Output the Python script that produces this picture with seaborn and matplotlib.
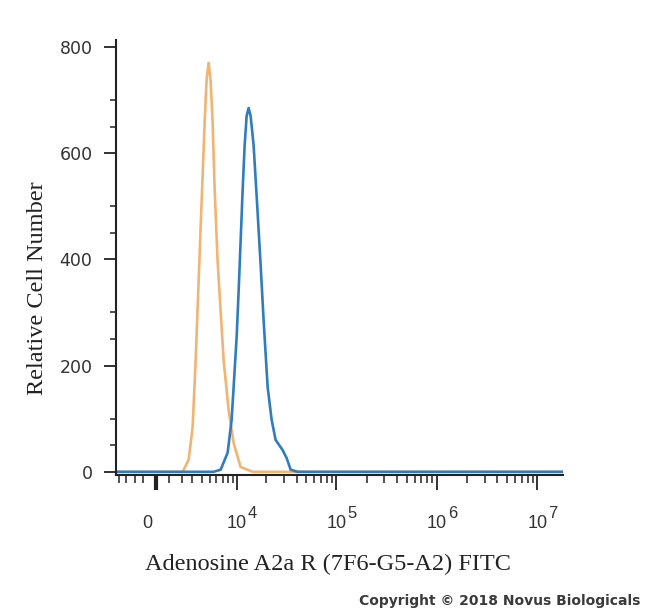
import numpy as np
import pandas as pd
import matplotlib
matplotlib.use("Agg")
import matplotlib.pyplot as plt
import seaborn as sns

sns.set_style("ticks")
plt.rcParams['font.family'] = ['Liberation Sans', 'DejaVu Sans']

# ============================================================
#  DATA
# ============================================================

# isotype control (orange)
iso_x = [-3300, 2091, 2635, 3025, 3333, 3657, 4118, 4360, 4612, 4874, 5146,
         5428, 5722, 6185, 7202, 8154, 9212, 10899, 14473, 1.8e7]
iso_y = [0, 0, 23, 85, 210, 360, 560, 657, 740, 770, 735,
         657, 533, 395, 210, 116, 54, 9, 0, 0]

# Adenosine A2a R stained (blue)
a2a_x = [-3300, 5573, 6678, 7955, 8775, 9212, 9905, 10389, 11433, 11988, 12568,
         13175, 13810, 14819, 15896, 17451, 18711, 20533, 22526, 24708, 29035,
         31838, 34911, 41011, 1.8e7]
a2a_y = [0, 0, 4, 36, 98, 160, 254, 340, 530, 614, 670,
         685, 670, 614, 520, 390, 285, 160, 98, 60, 41,
         26, 4, 0, 0]

x_major = [0, 1e4, 1e5, 1e6, 1e7]
x_base = ['0', '10', '10', '10', '10']
x_exp = ['', '4', '5', '6', '7']
y_major = [0, 200, 400, 600, 800]

ISO_COLOR = '#F2B472'
A2A_COLOR = '#2F7DC0'

# ============================================================
#  SCALE — biexponential-like (arcsinh) axis
# ============================================================

W = 3174.0

def fwd(x):
    return np.arcsinh(np.asarray(x) / W) / np.log(10)

def inv(y):
    return W * np.sinh(np.asarray(y) * np.log(10))

# ============================================================
#  PLOT
# ============================================================

df_iso = pd.DataFrame({'x': iso_x, 'y': iso_y})
df_a2a = pd.DataFrame({'x': a2a_x, 'y': a2a_y})

fig = plt.figure(figsize=(6.5, 6.14), dpi=100)
ax = fig.add_axes([116 / 650, 1 - 475 / 614, 447 / 650, 435 / 614])
ax.set_xscale('function', functions=(fwd, inv))

sns.lineplot(data=df_iso, x='x', y='y', sort=False, color=ISO_COLOR, lw=1.9, ax=ax)
sns.lineplot(data=df_a2a, x='x', y='y', sort=False, color=A2A_COLOR, lw=1.9, ax=ax)

ax.set_xlim(-3300, 1.8e7)
ax.set_ylim(-6, 813)

# x ticks
minor = [-3000, -2300, -1600, -900]
minor += [k * 1000 for k in range(1, 10)]
for dec in [1e4, 1e5, 1e6]:
    minor += [k * dec for k in range(2, 10)]
ax.set_xticks(x_major)
ax.set_xticklabels([])
ax.set_xticks(minor, minor=True)
ax.tick_params(axis='x', which='major', length=11, width=1.3, color='#222222')
ax.tick_params(axis='x', which='minor', length=6, width=1.1, color='#222222')
ax.xaxis.get_major_ticks()[0].tick1line.set_markeredgewidth(3)

# x tick labels: "10" with a large raised exponent
for val, base, ex in zip(x_major, x_base, x_exp):
    dx = -8 if ex == '' else 0
    ax.annotate(base, xy=(val, 0), xycoords=('data', 'axes fraction'),
                xytext=(dx, -48), textcoords='offset pixels',
                ha='center', va='center', fontsize=13, color='#333333')
    if ex:
        ax.annotate(ex, xy=(val, 0), xycoords=('data', 'axes fraction'),
                    xytext=(11, -38), textcoords='offset pixels',
                    ha='left', va='center', fontsize=12, color='#333333')

# y ticks
ax.set_yticks(y_major)
ax.set_yticks([50, 100, 250, 300, 450, 500, 650, 700], minor=True)
ax.tick_params(axis='y', which='major', length=9, width=1.3, pad=8,
               labelsize=12.5, color='#222222', labelcolor='#333333')
ax.tick_params(axis='y', which='minor', length=4, width=1.1, color='#222222')
for lab in ax.get_yticklabels():
    lab.set_family(['DejaVu Sans'])

for s in ['top', 'right']:
    ax.spines[s].set_visible(False)
for s in ['left', 'bottom']:
    ax.spines[s].set_linewidth(1.5)
    ax.spines[s].set_color('#222222')

ax.set_xlabel('Adenosine A2a R (7F6-G5-A2) FITC', family=['Liberation Serif'],
              fontsize=17.5, color='#222222')
ax.set_ylabel('Relative Cell Number', family=['Liberation Serif'],
              fontsize=17.5, color='#222222')
ax.xaxis.set_label_coords(0.474, -0.182)
ax.yaxis.set_label_coords(-0.152, 0.43)

fig.text(640 / 650, 1 - 601 / 614, 'Copyright \u00a9 2018 Novus Biologicals',
         ha='right', va='center', fontsize=10, fontweight='bold',
         color='#3a3a3a', family=['DejaVu Sans'])

fig.savefig('out.png', dpi=100)
